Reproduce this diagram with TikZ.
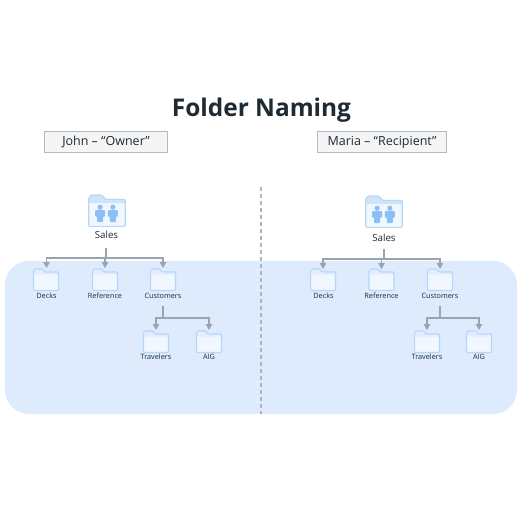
\documentclass[tikz,border=0pt]{standalone}
\usepackage{fontspec}
\setmainfont{Open Sans}
\usetikzlibrary{arrows.meta}
\definecolor{panel}{HTML}{DDEBFD}
\definecolor{foldline}{HTML}{B5D7FA}
\definecolor{foldband}{HTML}{CFE4FB}
\definecolor{foldfill}{HTML}{F1F7FE}
\definecolor{conn}{HTML}{98A4AE}
\definecolor{boxline}{HTML}{AEBBC4}
\definecolor{person}{HTML}{8CC0F5}
\definecolor{ink}{HTML}{1F2A33}
\tikzset{
  x=1pt,y=-1pt,
  lab/.style={font=\fontsize{7.3}{8}\selectfont,text=ink,inner sep=0pt},
  biglab/.style={font=\fontsize{9.7}{11}\selectfont,text=ink,inner sep=0pt},
  rolebox/.style={draw=boxline,fill=black!4,line width=1.1pt,inner sep=0pt,font=\fontsize{12.5}{14}\selectfont,text=ink,minimum height=21,minimum width=123},
  conline/.style={draw=conn,line width=1.2pt},
  conarrow/.style={conline,-{Triangle[length=6pt,width=6.5pt]}},
}
\newcommand{\folder}[5]{% name, cx, top y, scale, band colour
  \begin{scope}[shift={(#2,#3)},scale=#4]
    \fill[foldfill,rounded corners=1pt]
      (-12.5,21.5) -- (-12.5,2) -- (-11,0) -- (-3.5,0) -- (-1,3) -- (12.5,3) -- (12.5,21.5) -- cycle;
    \fill[#5,rounded corners=0.5pt] (-12.5,5.5) -- (-12.5,2) -- (-11,0) -- (-3.5,0) -- (-1,3) -- (12.5,3) -- (12.5,5.5) -- cycle;
    \draw[foldline,line width=1.1pt,rounded corners=1pt]
      (-12.5,21.5) -- (-12.5,2) -- (-11,0) -- (-3.5,0) -- (-1,3) -- (12.5,3) -- (12.5,21.5) -- cycle;
  \end{scope}
  \coordinate (#1) at (#2,#3);
}
\newcommand{\persons}[2]{%
  \foreach \dx in {-6.4,6.4}{
    \fill[person] (#1+\dx,#2-2.8) circle (2.6);
    \fill[person,rounded corners=0.8pt] (#1+\dx-5,#2+0.2) -- (#1+\dx+5,#2+0.2) -- (#1+\dx+5,#2+6.5) -- (#1+\dx+3,#2+6.5) -- (#1+\dx+3,#2+12) -- (#1+\dx-3,#2+12) -- (#1+\dx-3,#2+6.5) -- (#1+\dx-5,#2+6.5) -- cycle;
  }
}
\begin{document}
\begin{tikzpicture}
\useasboundingbox (0,0) rectangle (520,520);
\fill[white] (0,0) rectangle (520,520);
\fill[panel,rounded corners=24] (5,261) rectangle (517,414);
\draw[conn!80,line width=1.2pt,dash pattern=on 4pt off 3pt] (261,187) -- (261,414);
\node[font=\fontsize{24.4}{28}\selectfont\bfseries,text=ink,inner sep=0pt] (title) at (261.5,110) {Folder Naming};
\node[rolebox] (john) at (106,142) {John – “Owner”};
\node[rolebox,minimum width=129] (maria) at (382,142) {Maria – “Recipient”};

% Left tree
\folder{lsalesf}{107}{195}{1.46}{foldband}
\persons{106.5}{210}
\node[biglab] (lsales) at (106.5,235) {Sales};
\folder{ldecksf}{46}{269}{1}{foldband!45!foldfill}
\folder{lreff}{105}{269}{1}{foldband!45!foldfill}
\folder{lcustf}{163}{269}{1}{foldband!45!foldfill}
\folder{ltravf}{156}{331}{1}{foldband!45!foldfill}
\folder{laigf}{209}{331}{1}{foldband!45!foldfill}
\node[lab] (ldecks) at (46.5,295.5) {Decks};
\node[lab] (lref) at (105,295.5) {Reference};
\node[lab] (lcust) at (163,295.5) {Customers};
\node[lab] (ltrav) at (156,356.5) {Travelers};
\node[lab] (laig) at (209,356.5) {AIG};
\draw[conline] (106,248) -- (106,258);
\draw[conarrow] (106,258) -- (46.5,258) -- (46.5,268);
\draw[conarrow] (105,258) -- (105,268);
\draw[conarrow] (106,258) -- (163,258) -- (163,268);
\draw[conline] (163,306) -- (163,318);
\draw[conarrow] (163,318) -- (156,318) -- (156,330);
\draw[conarrow] (163,318) -- (209,318) -- (209,330);

% Right tree
\folder{rsalesf}{384}{196}{1.46}{foldband}
\persons{383.5}{211}
\node[biglab] (rsales) at (384,238) {Sales};
\folder{rdecksf}{323}{269}{1}{foldband!45!foldfill}
\folder{rreff}{381.5}{269}{1}{foldband!45!foldfill}
\folder{rcustf}{440}{269}{1}{foldband!45!foldfill}
\folder{rtravf}{427}{331}{1}{foldband!45!foldfill}
\folder{raigf}{479}{331}{1}{foldband!45!foldfill}
\node[lab] (rdecks) at (323.5,295.5) {Decks};
\node[lab] (rref) at (381.5,295.5) {Reference};
\node[lab] (rcust) at (440,295.5) {Customers};
\node[lab] (rtrav) at (427,356.5) {Travelers};
\node[lab] (raig) at (479,356.5) {AIG};
\draw[conline] (384,249) -- (384,259);
\draw[conarrow] (384,259) -- (323,259) -- (323,269);
\draw[conarrow] (381.5,259) -- (381.5,269);
\draw[conarrow] (384,259) -- (440,259) -- (440,269);
\draw[conline] (440,306) -- (440,318);
\draw[conarrow] (440,318) -- (427,318) -- (427,330);
\draw[conarrow] (440,318) -- (479,318) -- (479,330);
\end{tikzpicture}
\end{document}
